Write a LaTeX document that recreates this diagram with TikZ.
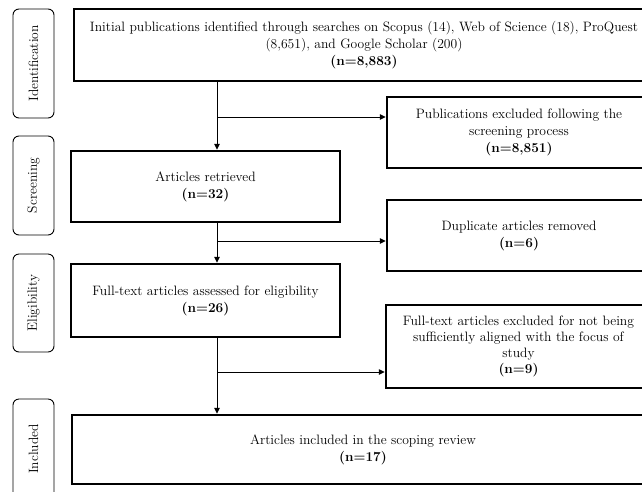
\documentclass[tikz,border=0pt]{standalone}
\usetikzlibrary{arrows.meta}
\begin{document}
\begin{tikzpicture}[x=1pt,y=-1pt,
  mainbox/.style={draw=black,line width=2.5pt,fill=white,inner sep=0pt,align=center,
    font=\fontsize{13.6}{17}\selectfont},
  sidelabel/.style={draw=black,line width=0.9pt,rounded corners=6pt,inner sep=0pt,
    minimum width=41pt,font=\fontsize{13.5}{16}\selectfont},
  arr/.style={draw=black,line width=0.9pt,-{Triangle[length=6pt,width=5.5pt]}},
  plain/.style={draw=black,line width=0.9pt}]
\useasboundingbox (0,0) rectangle (642,491);
% side labels
\node[sidelabel,minimum height=109pt] (lid) at (33.5,63.5) {\rotatebox{90}{Identification}};
\node[sidelabel,minimum height=99pt] (lsc) at (33.5,185.5) {\rotatebox{90}{Screening}};
\node[sidelabel,minimum height=98pt] (lel) at (33.5,303) {\rotatebox{90}{Eligibility}};
\node[sidelabel,minimum height=100pt] (lin) at (33.5,449) {\rotatebox{90}{Included}};
% main boxes
\node[mainbox,minimum width=580pt,minimum height=72pt] (id) at (364,45)
  {Initial publications identified through searches on Scopus (14), Web of Science (18), ProQuest\\
   (8,651), and Google Scholar (200)\\ \textbf{(n=8,883)}};
\node[mainbox,minimum width=269pt,minimum height=71pt] (ret) at (205.5,186.5)
  {Articles retrieved\\ \textbf{(n=32)}};
\node[mainbox,minimum width=269pt,minimum height=73pt] (full) at (205.5,300.5)
  {Full-text articles assessed for eligibility\\ \textbf{(n=26)}};
\node[mainbox,minimum width=582pt,minimum height=69pt] (inc) at (363,449.5)
  {Articles included in the scoping review\\ \textbf{(n=17)}};
% exclusion boxes
\node[mainbox,minimum width=264pt,minimum height=71pt] (ex1) at (519,132.5)
  {Publications excluded following the\\ screening process\\ \textbf{(n=8,851)}};
\node[mainbox,minimum width=264pt,minimum height=71pt] (ex2) at (519,235.5)
  {Duplicate articles removed\\ \textbf{(n=6)}};
\node[mainbox,minimum width=265pt,minimum height=83pt,font=\fontsize{13.6}{16}\selectfont] (ex3) at (518.5,346.5)
  {Full-text articles excluded for not being\\ sufficiently aligned with the focus of\\ study\\ \textbf{(n=9)}};
% branch points
\coordinate (b1) at (217,117);
\coordinate (b2) at (217,241);
\coordinate (b3) at (217,372);
% connectors
\draw[arr] (id.south -| b1) -- (ret.north -| b1);
\draw[arr] (b1) -- (b1 -| ex1.west);
\draw[arr] (ret.south -| b2) -- (full.north -| b2);
\draw[arr] (b2) -- (b2 -| ex2.west);
\draw[arr] (full.south -| b3) -- (inc.north -| b3);
\draw[arr] (b3) -- (b3 -| ex3.west);
\end{tikzpicture}
\end{document}
